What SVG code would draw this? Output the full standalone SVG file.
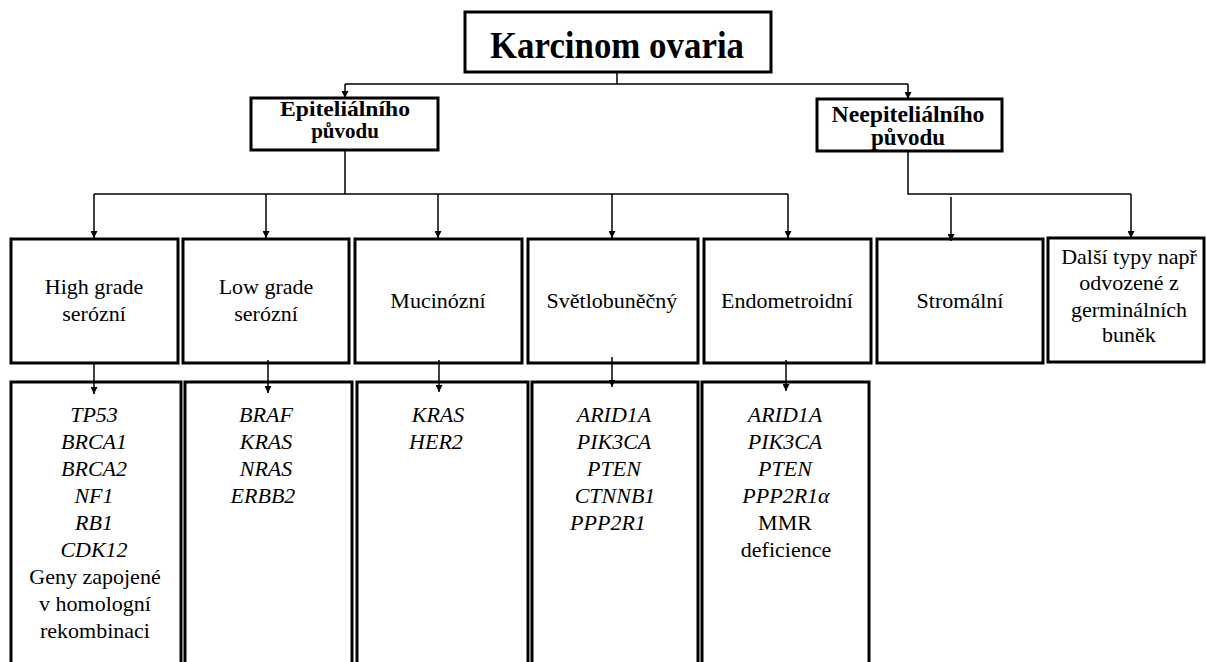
<svg xmlns="http://www.w3.org/2000/svg" width="1206" height="662" viewBox="0 0 1206 662" font-family="'Liberation Serif', 'DejaVu Serif', serif">
<style>
.box{fill:#fff;stroke:#000;stroke-width:3}
.t{font-family:'Liberation Serif','DejaVu Serif',serif;font-size:22px;fill:#000;text-anchor:middle}
.b{font-weight:bold}
.i{font-style:italic}
.c{fill:none;stroke:#000;stroke-width:1.5}
</style>
<defs>
<marker id="ah" viewBox="0 0 10 10" refX="10" refY="5" markerWidth="8" markerHeight="7" markerUnits="userSpaceOnUse" orient="auto">
<path d="M0,0 L10,5 L0,10 z" fill="#000"/>
</marker>
</defs>
<rect width="1206" height="662" fill="#fff"/>

<g id="root">
<rect class="box" x="465" y="12" width="306" height="60"/>
<text class="t b" x="617" y="58" font-size="38" style="font-size:38px" textLength="254" lengthAdjust="spacingAndGlyphs">Karcinom ovaria</text>
</g>

<g id="epitel">
<rect class="box" x="251" y="98" width="187" height="52"/>
<text class="t b" x="345" y="116" style="font-size:21px" textLength="130" lengthAdjust="spacingAndGlyphs">Epiteliálního</text>
<text class="t b" x="345" y="138" style="font-size:21px">původu</text>
</g>

<g id="neepitel">
<rect class="box" x="817" y="99" width="185" height="52"/>
<text class="t b" x="908" y="122" style="font-size:23px" textLength="153" lengthAdjust="spacingAndGlyphs">Neepiteliálního</text>
<text class="t b" x="908" y="145" style="font-size:23px">původu</text>
</g>

<g id="hg">
<rect class="box" x="11" y="239" width="167" height="124"/>
<text class="t" x="94" y="294">High grade</text>
<text class="t" x="94" y="321">serózní</text>
</g>
<g id="lg">
<rect class="box" x="183" y="239" width="166" height="124"/>
<text class="t" x="266" y="294">Low grade</text>
<text class="t" x="266" y="321">serózní</text>
</g>
<g id="muc">
<rect class="box" x="355" y="239" width="167" height="124"/>
<text class="t" x="438" y="308">Mucinózní</text>
</g>
<g id="svetl">
<rect class="box" x="528" y="239" width="170" height="124"/>
<text class="t" x="612" y="308">Světlobuněčný</text>
</g>
<g id="endo">
<rect class="box" x="704" y="239" width="167" height="124"/>
<text class="t" x="787" y="308">Endometroidní</text>
</g>
<g id="strom">
<rect class="box" x="877" y="239" width="166" height="124"/>
<text class="t" x="960" y="308">Stromální</text>
</g>
<g id="dalsi">
<rect class="box" x="1048" y="238" width="156" height="124"/>
<text class="t" x="1129" y="264">Další typy např</text>
<text class="t" x="1129" y="290">odvozené z</text>
<text class="t" x="1129" y="317">germinálních</text>
<text class="t" x="1129" y="342">buněk</text>
</g>

<g id="hg-genes">
<rect class="box" x="11" y="382" width="170" height="300"/>
<text class="t i" x="94" y="422">TP53</text>
<text class="t i" x="94" y="449">BRCA1</text>
<text class="t i" x="94" y="476">BRCA2</text>
<text class="t i" x="94" y="503">NF1</text>
<text class="t i" x="94" y="530">RB1</text>
<text class="t i" x="94" y="557">CDK12</text>
<text class="t" x="95" y="584">Geny zapojené</text>
<text class="t" x="95" y="611">v homologní</text>
<text class="t" x="95" y="638">rekombinaci</text>
</g>
<g id="lg-genes">
<rect class="box" x="185" y="382" width="167" height="300"/>
<text class="t i" x="266" y="422">BRAF</text>
<text class="t i" x="266" y="449">KRAS</text>
<text class="t i" x="266" y="476">NRAS</text>
<text class="t i" x="263" y="503">ERBB2</text>
</g>
<g id="muc-genes">
<rect class="box" x="357" y="382" width="171" height="300"/>
<text class="t i" x="438" y="422">KRAS</text>
<text class="t i" x="436" y="449">HER2</text>
</g>
<g id="svetl-genes">
<rect class="box" x="532" y="382" width="166" height="300"/>
<text class="t i" x="614" y="422">ARID1A</text>
<text class="t i" x="614" y="449">PIK3CA</text>
<text class="t i" x="614" y="476">PTEN</text>
<text class="t i" x="615" y="503">CTNNB1</text>
<text class="t i" x="608" y="530">PPP2R1</text>
</g>
<g id="endo-genes">
<rect class="box" x="702" y="382" width="167" height="300"/>
<text class="t i" x="785" y="422">ARID1A</text>
<text class="t i" x="785" y="449">PIK3CA</text>
<text class="t i" x="785" y="476">PTEN</text>
<text class="t i" x="786" y="503">PPP2R1α</text>
<text class="t" x="785" y="530">MMR</text>
<text class="t" x="786" y="557">deficience</text>
</g>

<g id="connectors">
<path class="c" d="M617,72 V84 M345,84 H908"/>
<path class="c" d="M345,84 V98" marker-end="url(#ah)"/>
<path class="c" d="M908,84 V99" marker-end="url(#ah)"/>
<path class="c" d="M345,150 V194 M94,194 H788"/>
<path class="c" d="M94,194 V238" marker-end="url(#ah)"/>
<path class="c" d="M266,194 V238" marker-end="url(#ah)"/>
<path class="c" d="M438,194 V238" marker-end="url(#ah)"/>
<path class="c" d="M612,194 V238" marker-end="url(#ah)"/>
<path class="c" d="M788,194 V238" marker-end="url(#ah)"/>
<path class="c" d="M908,151 V194 H1131"/>
<path class="c" d="M1131,194 V238" marker-end="url(#ah)"/>
<path class="c" d="M951,197 V241" marker-end="url(#ah)"/>
<path class="c" d="M94,364 V394" marker-end="url(#ah)"/>
<path class="c" d="M268,360 V393" marker-end="url(#ah)"/>
<path class="c" d="M439,360 V392" marker-end="url(#ah)"/>
<path class="c" d="M612,357 V387" marker-end="url(#ah)"/>
<path class="c" d="M786,360 V391" marker-end="url(#ah)"/>
</g>
</svg>
